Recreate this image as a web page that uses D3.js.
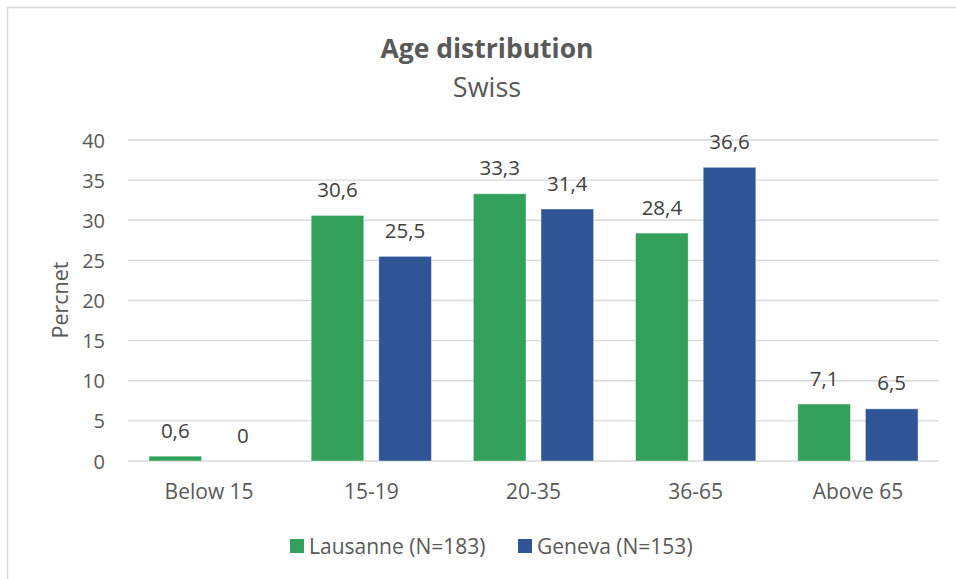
<!DOCTYPE html>
<html><head><meta charset="utf-8">
<script src="https://cdn.jsdelivr.net/npm/d3@7"></script>
<style>
html,body{margin:0;padding:0;background:#fff;}
svg{display:block;font-family:"Open Sans",Lato,sans-serif;}
</style></head><body>
<svg id="chart" width="956" height="579"></svg>
<script>
const categories = ["Below 15", "15-19", "20-35", "36-65", "Above 65"];
const seriesNames = ["Lausanne (N=183)", "Geneva (N=153)"];
const lausanne = [0.6, 30.6, 33.3, 28.4, 7.1];
const geneva = [0, 25.5, 31.4, 36.6, 6.5];
const yTicks = [0, 5, 10, 15, 20, 25, 30, 35, 40];
const labelsL = ["0,6", "30,6", "33,3", "28,4", "7,1"];
const labelsG = ["0", "25,5", "31,4", "36,6", "6,5"];
const colors = ["#33A05B", "#2F5597"];

(function () {
const svg = d3.select("#chart");
const textColor = "#595959";
const FF = "'Open Sans',Lato,sans-serif";

// chart border
svg.append("rect").attr("x", 7.5).attr("y", 7.5).attr("width", 960).attr("height", 590)
  .attr("fill", "#fff").attr("stroke", "#D9D9D9").attr("stroke-width", 1.5);

const pLeft = 128, pRight = 939, pTop = 140, pBottom = 461;
const x0 = d3.scaleBand().domain(categories).range([pLeft, pRight]).paddingInner(0).paddingOuter(0);
const x1 = d3.scaleBand().domain([0, 1]).range([0, x0.bandwidth()]).paddingInner(0.222).paddingOuter(0.31);
const y = d3.scaleLinear().domain([0, 40]).range([pBottom, pTop]);

// gridlines
svg.append("g").selectAll("line").data(yTicks).join("line")
  .attr("x1", pLeft).attr("x2", pRight)
  .attr("y1", d => y(d)).attr("y2", d => y(d))
  .attr("stroke", "#D9D9D9").attr("stroke-width", 1.3);

// y axis labels
const yAxis = d3.axisLeft(y).tickValues(yTicks).tickSize(0).tickPadding(0);
const ya = svg.append("g").attr("transform", `translate(105,0)`).call(yAxis);
ya.select(".domain").remove();
ya.selectAll("text").attr("fill", textColor).style("font-size", "20px")
  .style("font-family", FF).attr("dy", "0.35em");

// x axis labels
const xAxis = d3.axisBottom(x0).tickSize(0).tickPadding(0);
const xa = svg.append("g").attr("transform", `translate(0,499)`).call(xAxis);
xa.select(".domain").remove();
xa.selectAll("text").attr("fill", textColor).style("font-size", "21px")
  .style("font-family", FF).attr("y", 0).attr("dy", 0);

const data = categories.map((c, i) => ({c, vals: [lausanne[i], geneva[i]], labs: [labelsL[i], labelsG[i]]}));

const groups = svg.append("g").selectAll("g").data(data).join("g")
  .attr("transform", d => `translate(${x0(d.c)},0)`);

groups.selectAll("rect").data(d => d.vals.map((v, k) => ({v, k}))).join("rect")
  .attr("x", d => x1(d.k)).attr("width", x1.bandwidth())
  .attr("y", d => y(d.v)).attr("height", d => y(0) - y(d.v))
  .attr("fill", d => colors[d.k])
  .attr("stroke", "#fff").attr("stroke-opacity", 0.5).attr("stroke-width", 0.8);

groups.selectAll("text.lab").data(d => d.vals.map((v, k) => ({v, k, t: d.labs[k]}))).join("text")
  .attr("class", "lab")
  .attr("x", d => x1(d.k) + x1.bandwidth() / 2)
  .attr("y", d => y(d.v) - 18.5)
  .attr("text-anchor", "middle").attr("fill", "#404040")
  .style("font-size", "20.5px").text(d => d.t);

// y axis title
svg.append("text").attr("transform", "translate(68,300) rotate(-90)")
  .attr("text-anchor", "middle").attr("fill", textColor).style("font-size", "21.5px").text("Percnet");

// titles
svg.append("text").attr("x", 487).attr("y", 58).attr("text-anchor", "middle")
  .attr("fill", textColor).style("font-size", "26.5px").style("font-weight", "bold").text("Age distribution");
svg.append("text").attr("x", 487).attr("y", 97).attr("text-anchor", "middle")
  .attr("fill", textColor).style("font-size", "27px").text("Swiss");

// legend
const legendX = [290, 518];
const lg = svg.append("g").selectAll("g").data(seriesNames).join("g")
  .attr("transform", (d, i) => `translate(${legendX[i]},539)`);
lg.append("rect").attr("width", 14).attr("height", 14).attr("fill", (d, i) => colors[i]);
lg.append("text").attr("x", 19).attr("y", 14.5).attr("fill", textColor)
  .style("font-size", "21px").text(d => d);
})();
</script>
</body></html>
